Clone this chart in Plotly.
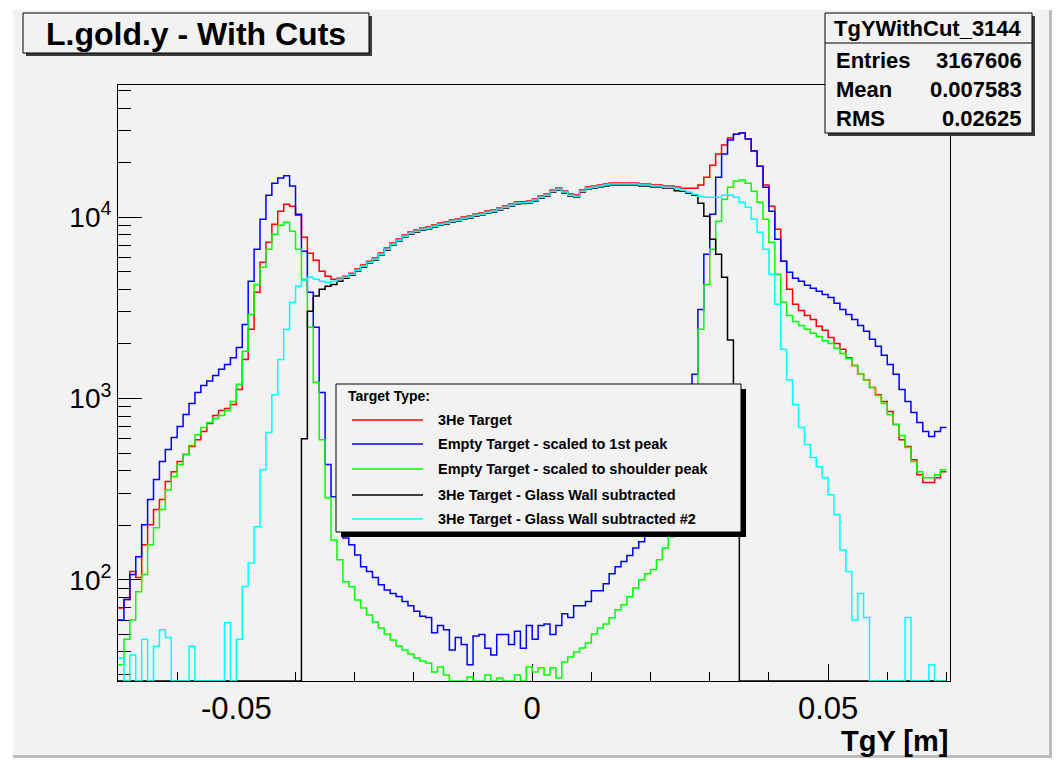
import numpy as np
import plotly.graph_objects as go

# Histogram binning of TgY [m]
N_BINS = 140
X_LO, X_HI = -0.07, 0.07

# Bin contents (counts per bin), left to right
he3_target = [
    70, 78, 111, 103, 156, 201, 244, 277, 349, 395,
    449, 491, 543, 593, 657, 727, 805, 858, 880, 926,
    1120, 1640, 2410, 3850, 5640, 7280, 9150, 10790, 11800, 11500,
    10260, 7750, 6330, 5790, 5030, 4720, 4540, 4610, 4730, 4910,
    5180, 5440, 5720, 5950, 6340, 6760, 7200, 7570, 7970, 8280,
    8500, 8720, 8830, 9050, 9290, 9410, 9640, 9770, 10020, 10150,
    10410, 10550, 10820, 10950, 11240, 11530, 11830, 12130, 12180, 12280,
    12610, 13090, 13430, 14130, 14490, 13960, 13430, 13260, 14130, 14680,
    14860, 15060, 15260, 15450, 15450, 15450, 15450, 15450, 15260, 15260,
    15060, 15060, 14860, 14860, 14680, 14460, 14460, 14460, 15030, 16630,
    19360, 22280, 24990, 27330, 28700, 29100, 26980, 23160, 19120, 15030,
    11500, 8590, 5710, 4000, 3310, 3060, 2870, 2730, 2500, 2380,
    2170, 2010, 1870, 1680, 1520, 1370, 1270, 1150, 1050, 962,
    848, 718, 593, 543, 460, 380, 344, 344, 366, 395,
]

empty_scaled_1st_peak = [
    60, 78, 107, 134, 201, 277, 357, 449, 523, 609,
    700, 816, 938, 1080, 1180, 1250, 1340, 1450, 1540, 1680,
    1910, 2560, 4430, 6660, 9750, 13230, 15410, 16430, 16900, 14840,
    10390, 6490, 3850, 2470, 1080, 432, 287, 201, 170, 156,
    137, 118, 111, 103, 94, 88, 84, 81, 76, 72,
    67, 63, 62, 51, 56, 53, 41, 48, 44, 34,
    49, 50, 42, 38.5, 50, 50, 44, 52, 42, 56,
    47, 56, 57, 50, 56, 65, 62, 72, 72, 76,
    87, 87, 95, 108, 118, 126, 136, 150, 162, 182,
    201, 244, 295, 380, 491, 674, 926, 1360, 3100, 6250,
    10390, 16630, 22280, 26640, 28700, 29100, 26980, 23160, 19120, 14640,
    10790, 7560, 5710, 4970, 4600, 4430, 4210, 4050, 3900, 3750,
    3610, 3350, 3100, 2910, 2730, 2530, 2350, 2120, 1940, 1730,
    1540, 1360, 1120, 962, 837, 737, 657, 617, 657, 692,
]

empty_scaled_shoulder = [
    34, 47, 60, 86, 107, 156, 194, 244, 314, 371,
    432, 491, 550, 632, 692, 737, 775, 805, 858, 962,
    1200, 1820, 2910, 4260, 5290, 6660, 8060, 9030, 9380, 8370,
    6660, 4540, 2470, 1230, 593, 284, 166, 129, 97.5, 91.5,
    77.5, 70, 64, 58.6, 54.3, 50.3, 46.6, 43.2, 41, 39,
    37.1, 35.7, 34.8, 31, 33.1, 29.9, 0, 0, 0, 29.1,
    0, 0, 29.9, 0, 28.7, 0, 0, 29.9, 0, 33.1,
    31, 32.7, 29.9, 32.7, 28.7, 35.2, 37.5, 40, 42.1, 44.9,
    50.3, 54.3, 57.1, 61.7, 68.3, 72.8, 80.6, 90, 100, 108,
    114, 129, 150, 173, 215, 277, 405, 1100, 2410, 4260,
    6660, 9500, 12570, 14640, 15810, 16010, 15410, 13920, 12100, 9750,
    7280, 4840, 3390, 2870, 2660, 2530, 2410, 2290, 2200, 2090,
    2010, 1890, 1770, 1660, 1520, 1370, 1270, 1150, 1040, 938,
    816, 718, 625, 536, 449, 395, 366, 366, 380, 405,
]

he3_glass_subtracted = [
    0, 0, 0, 0, 0, 0, 0, 0, 0, 0,
    0, 0, 0, 0, 0, 0, 0, 0, 0, 0,
    0, 0, 0, 0, 0, 0, 0, 0, 0, 0,
    0, 600, 3030, 3680, 4000, 4160, 4260, 4430, 4600, 4790,
    5050, 5300, 5580, 5800, 6190, 6590, 7020, 7390, 7770, 8080,
    8290, 8500, 8610, 8830, 9060, 9180, 9400, 9530, 9770, 9900,
    10160, 10290, 10550, 10680, 10960, 11250, 11530, 11830, 11880, 11980,
    12300, 12770, 13100, 13780, 14140, 13610, 13100, 12930, 13780, 14320,
    14490, 14690, 14880, 15070, 15070, 15070, 15070, 15070, 14880, 14880,
    14690, 14690, 14490, 14490, 14000, 13920, 13570, 13230, 11950, 10130,
    7560, 6250, 4660, 2100, 900, 0, 0, 0, 0, 0,
    0, 0, 0, 0, 0, 0, 0, 0, 0, 0,
    0, 0, 0, 0, 0, 0, 0, 0, 0, 0,
    0, 0, 0, 0, 0, 0, 0, 0, 0, 0,
]

he3_glass_subtracted_2 = [
    37, 0, 38.5, 0, 47, 0, 43, 53, 48, 0,
    0, 0, 43, 0, 0, 0, 0, 0, 58, 0,
    47, 92, 124, 196, 405, 650, 1050, 1640, 2410, 3390,
    4160, 4490, 4660, 4540, 4430, 4370, 4430, 4540, 4660, 4840,
    5100, 5360, 5640, 5860, 6250, 6660, 7090, 7460, 7850, 8160,
    8370, 8590, 8700, 8920, 9150, 9270, 9500, 9630, 9870, 10000,
    10260, 10390, 10660, 10790, 11070, 11360, 11650, 11950, 12000, 12100,
    12420, 12900, 13230, 13920, 14280, 13750, 13230, 13060, 13920, 14460,
    14640, 14840, 15030, 15220, 15220, 15220, 15220, 15220, 15030, 15030,
    14840, 14840, 14640, 14640, 14460, 14100, 13750, 13400, 13060, 12900,
    12900, 12900, 13230, 13230, 12900, 12100, 11360, 9750, 8260, 6660,
    4840, 3310, 1870, 1270, 926, 692, 557, 472, 420, 366,
    295, 229, 146, 111, 60, 84, 62, 0, 0, 0,
    0, 0, 0, 62, 0, 0, 0, 34, 0, 0,
]

series_names = [
    "3He Target",
    "Empty Target - scaled to 1st peak",
    "Empty Target - scaled to shoulder peak",
    "3He Target - Glass Wall subtracted",
    "3He Target - Glass Wall subtracted #2",
]
series_values = [he3_target, empty_scaled_1st_peak, empty_scaled_shoulder,
                 he3_glass_subtracted, he3_glass_subtracted_2]
series_colors = ["#ff0000", "#0000ff", "#00ff00", "#000000", "#00ffff"]

hist_title = "L.gold.y - With Cuts"
stats_name = "TgYWithCut_3144"
stats_rows = [("Entries", "3167606"), ("Mean", "0.007583"), ("RMS", "0.02625")]
legend_header = "Target Type:"
x_title = "TgY [m]"

x_tick_vals = [-0.05, 0.0, 0.05]
x_tick_text = ["-0.05", "0", "0.05"]
y_tick_vals = [100, 1000, 10000]
y_tick_text = ["10<sup>2</sup>", "10<sup>3</sup>", "10<sup>4</sup>"]

# ---- figure geometry (pixels) ----
W, H = 1059, 762
L, R, T, B = 118, 950, 85, 681   # frame edges
X_RANGE = [-0.07, 0.0706]
Y_LOG_RANGE = [1.442, 4.729]
FONT = "Liberation Sans, Arial, Helvetica, sans-serif"


def fx(px):
    return (px - L) / (R - L)


def fy(py):
    return (B - py) / (B - T)


edges = np.linspace(X_LO, X_HI, N_BINS + 1)
floor_val = 10 ** Y_LOG_RANGE[0]

fig = go.Figure()
for name, vals, col in zip(series_names, series_values, series_colors):
    assert len(vals) == N_BINS
    v = np.asarray(vals, dtype=float)
    v = np.where(v > 0, v, floor_val)  # empty bins sit on the lower axis
    fig.add_trace(go.Scatter(
        x=edges, y=np.append(v, v[-1]), mode="lines", name=name,
        line=dict(color=col, width=1.5, shape="hv"),
        hoverinfo="skip", showlegend=False,
    ))

x_minor = [round(t, 3) for t in np.arange(-0.07, 0.0701, 0.01)]
y_minor = [k * 10 ** d for d in range(1, 5) for k in range(2, 10)]

fig.update_xaxes(
    range=X_RANGE, tickmode="array", tickvals=x_tick_vals, ticktext=x_tick_text,
    ticks="inside", ticklen=17, tickwidth=1, tickcolor="black",
    minor=dict(tickmode="array", tickvals=x_minor, ticks="inside", ticklen=9,
               tickwidth=1, tickcolor="black"),
    showline=True, linecolor="black", linewidth=1, mirror=True,
    showgrid=False, zeroline=False, layer="below traces",
    tickfont=dict(family=FONT, size=31, color="black"),
)
fig.update_yaxes(
    type="log", range=Y_LOG_RANGE, tickmode="array", tickvals=y_tick_vals,
    ticktext=y_tick_text, ticks="inside", ticklen=24, tickwidth=1,
    tickcolor="black",
    minor=dict(tickmode="array", tickvals=y_minor, ticks="inside", ticklen=13,
               tickwidth=1, tickcolor="black"),
    showline=True, linecolor="black", linewidth=1, mirror=True,
    showgrid=False, zeroline=False, layer="below traces",
    tickfont=dict(family=FONT, size=28, color="black"),
)

shapes = []


def rect(x0, y0, x1, y1, fill, line_color=None, width=1):
    shapes.append(dict(
        type="rect", xref="paper", yref="paper",
        x0=fx(x0), x1=fx(x1), y0=fy(y1), y1=fy(y0),
        fillcolor=fill, layer="above",
        line=dict(color=line_color or fill, width=width if line_color else 0),
    ))


def hline(x0, x1, y, color, width=1):
    shapes.append(dict(type="line", xref="paper", yref="paper",
                       x0=fx(x0), x1=fx(x1), y0=fy(y), y1=fy(y),
                       line=dict(color=color, width=width), layer="above"))


# canvas border (light outside, bevelled pad edge)
rect(0, 0, W, 10, "#ffffff")
rect(0, 0, 13, H, "#ffffff")
rect(1052, 0, W, H, "#ffffff")
rect(0, 758, W, H, "#ffffff")
rect(1049, 10, 1052, 758, "#bdbdbd")
rect(13, 755, 1052, 758, "#bdbdbd")

# title box
rect(26, 16, 372, 56, "#3c3c3c")
rect(23, 13, 369, 53, "#f2f2f2", "black", 1)

# statistics box
rect(828, 16, 1035, 136, "#3c3c3c")
rect(825, 13, 1032, 133, "#f2f2f2", "black", 1)
hline(825, 1032, 43, "black", 1)

# legend box
rect(341, 389, 746, 537, "#000000")
rect(336, 384, 741, 532, "#f2f2f2", "black", 1)

legend_y = [420, 444, 469, 495, 519]
for yy, col in zip(legend_y, series_colors):
    hline(352, 423, yy, col, 1.5)

fig.update_layout(shapes=shapes)

ann = []


def text(px, py, s, size, xanchor="left", bold=True):
    ann.append(dict(
        xref="paper", yref="paper", x=fx(px), y=fy(py), text=s,
        showarrow=False, xanchor=xanchor, yanchor="middle",
        font=dict(family=FONT, size=size, color="black",
                  weight="bold" if bold else "normal"),
    ))


text(196, 34, hist_title, 32, "center")
text(928, 28, stats_name, 22, "center")
for (lab, val), yy in zip(stats_rows, [60, 89, 119]):
    text(834, yy, lab, 22, "left")
    text(1024, yy, val, 22, "right")

text(346, 396, legend_header, 14, "left")
for yy, nm in zip(legend_y, series_names):
    text(436, yy, nm, 14.5, "left")

text(950, 741, x_title, 29, "right")

fig.update_layout(
    width=W, height=H,
    margin=dict(l=L, r=W - R, t=T, b=H - B),
    paper_bgcolor="#f2f2f2", plot_bgcolor="#f2f2f2",
    showlegend=False, annotations=ann,
    font=dict(family=FONT, color="black"),
)

fig.write_html("out.html")
